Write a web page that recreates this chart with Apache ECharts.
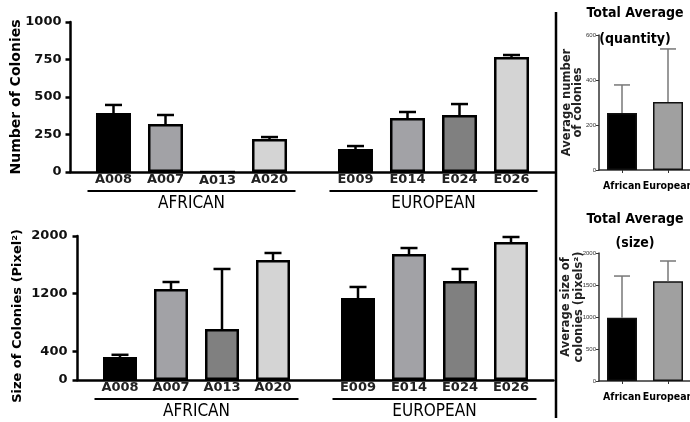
<!DOCTYPE html>
<html><head><meta charset="utf-8">
<script src="https://cdn.jsdelivr.net/npm/echarts@6/dist/echarts.min.js"></script>
<style>html,body{margin:0;padding:0;background:#fff}#c{width:690px;height:422px}</style>
</head><body><div id="c"></div><script>
// ---- data ----
const groups = ['AFRICAN', 'EUROPEAN'];
const strainsAfrican = ['A008', 'A007', 'A013', 'A020'];
const strainsEuropean = ['E009', 'E014', 'E024', 'E026'];
const countAfrican = [393, 320, 0, 220];
const countAfricanSD = [54, 60, 0, 13];
const countEuropean = [153, 360, 380, 767];
const countEuropeanSD = [20, 40, 73, 13];
const sizeAfrican = [320, 1264, 708, 1667];
const sizeAfricanSD = [30, 97, 834, 97];
const sizeEuropean = [1139, 1750, 1375, 1917];
const sizeEuropeanSD = [153, 83, 167, 69];
const totalGroups = ['African', 'European'];
const totalCount = [253, 302];
const totalCountSD = [125, 236];
const totalSize = [990, 1560];
const totalSizeSD = [650, 315];
const countTicks = [0, 250, 500, 750, 1000];
const sizeTicks = [0, 400, 1200, 2000];

// ---- style ----
const barColors = ['#000000', '#a2a2a6', '#808080', '#d4d4d4'];
const totalColors = ['#000000', '#a0a0a0'];
const NARROW = '"Liberation Sans Narrow", "DejaVu Sans Condensed", "Roboto Condensed", "Liberation Sans", sans-serif';
const WIDE = '"DejaVu Sans", sans-serif';

function errorBars(spacing, nSeries, capW, color, lw) {
  return function (params, api) {
    const cat = api.value(0), s = api.value(1), v = api.value(2), e = api.value(3);
    if (!(e > 0)) return null;
    const p0 = api.coord([cat, v]), p1 = api.coord([cat, v + e]);
    const x = p0[0] + (s - (nSeries - 1) / 2) * spacing;
    return { type: 'group', children: [
      { type: 'line', shape: { x1: x, y1: p0[1], x2: x, y2: p1[1] }, style: { stroke: color, lineWidth: lw } },
      { type: 'line', shape: { x1: x - capW / 2, y1: p1[1], x2: x + capW / 2, y2: p1[1] }, style: { stroke: color, lineWidth: lw } }
    ] };
  };
}

function groupedData(af, afSD, eu, euSD) {
  const out = [];
  for (let s = 0; s < af.length; s++) {
    out.push([0, s, af[s], afSD[s]]);
    out.push([1, s, eu[s], euSD[s]]);
  }
  return out;
}

function leftBars(grid, af, eu, barW, gap, labelLH) {
  return af.map((v, k) => ({
    type: 'bar', xAxisIndex: grid, yAxisIndex: grid,
    data: [af[k], eu[k]],
    barWidth: barW, barGap: gap,
    itemStyle: { color: barColors[k], borderColor: '#000', borderWidth: 2.5 },
    label: {
      show: true, position: 'bottom', distance: 1,
      formatter: p => (p.dataIndex === 0 ? strainsAfrican : strainsEuropean)[k],
      fontFamily: WIDE, fontWeight: 'bold', fontSize: 13, lineHeight: labelLH, color: '#222'
    },
    silent: true, z: 2
  }));
}

function groupAxis(grid, lineW, margin) {
  return {
    gridIndex: grid, type: 'category', data: groups,
    axisLine: { lineStyle: { color: '#000', width: 2.5 } },
    axisTick: { show: false },
    axisLabel: {
      margin: margin, interval: 0,
      formatter: v => '{line|}\n{name|' + v + '}',
      rich: {
        line: { width: lineW, height: 2, lineHeight: 2, fontSize: 2, backgroundColor: '#000' },
        name: { fontFamily: NARROW, fontSize: 17, lineHeight: 23, color: '#000' }
      }
    }
  };
}

function smallCatAxis(grid) {
  return { gridIndex: grid, type: 'category', data: totalGroups,
    axisLine: { lineStyle: { color: '#333', width: 1.5 } },
    axisTick: { show: true, alignWithLabel: true, length: 3, lineStyle: { color: '#333' } },
    axisLabel: { margin: 11, interval: 0, hideOverlap: false, fontFamily: NARROW, fontWeight: 'bold', fontSize: 10.5, color: '#000' } };
}

const chart = echarts.init(document.getElementById('c'));
const option = {
  animation: false,
  backgroundColor: '#fff',
  title: [
    { text: 'Total Average\n(quantity)', left: 635, top: 0, padding: 0, textAlign: 'center',
      textStyle: { fontFamily: NARROW, fontWeight: 'bold', fontSize: 14, lineHeight: 26, color: '#000' } },
    { text: 'Total Average\n(size)', left: 635, top: 207, padding: 0, textAlign: 'center',
      textStyle: { fontFamily: NARROW, fontWeight: 'bold', fontSize: 14, lineHeight: 24, color: '#000' } }
  ],
  grid: [
    { left: 70.5, width: 484, top: 22, height: 150, outerBoundsMode: 'none' },
    { left: 77.5, width: 476, top: 236, height: 144, outerBoundsMode: 'none' },
    { left: 599, width: 92, top: 35, height: 135, outerBoundsMode: 'none' },
    { left: 599, width: 92, top: 253, height: 128, outerBoundsMode: 'none' }
  ],
  xAxis: [
    groupAxis(0, 208, 18),
    groupAxis(1, 204, 18),
    smallCatAxis(2),
    smallCatAxis(3)
  ],
  yAxis: [
    { gridIndex: 0, type: 'value', min: countTicks[0], max: countTicks[countTicks.length - 1], interval: 250,
      axisLine: { show: true, lineStyle: { color: '#000', width: 2.5 } },
      axisTick: { show: true, length: 5, lineStyle: { width: 2.5, color: '#000' } },
      splitLine: { show: false },
      axisLabel: { margin: 9, fontFamily: WIDE, fontWeight: 'bold', fontSize: 13, color: '#111', formatter: v => String(v) },
      name: 'Number of Colonies', nameLocation: 'middle', nameGap: 47, nameRotate: 90, nameMoveOverlap: false,
      nameTextStyle: { fontFamily: WIDE, fontWeight: 'bold', fontSize: 14, color: '#000' } },
    { gridIndex: 1, type: 'value', min: 0, max: 2000,
      axisLine: { show: true, lineStyle: { color: '#000', width: 2.5 } },
      axisTick: { show: true, length: 5, lineStyle: { width: 2.5, color: '#000' }, customValues: sizeTicks },
      splitLine: { show: false },
      axisLabel: { margin: 10, fontFamily: WIDE, fontWeight: 'bold', fontSize: 13, color: '#111',
        customValues: sizeTicks, formatter: v => String(v) },
      name: 'Size of Colonies (Pixel²)', nameLocation: 'middle', nameGap: 53, nameRotate: 90, nameMoveOverlap: false,
      nameTextStyle: { fontFamily: WIDE, fontWeight: 'bold', fontSize: 13, color: '#000', padding: [0, 16, 0, 0] } },
    { gridIndex: 2, type: 'value', min: 0, max: 600, interval: 200,
      axisLine: { show: true, lineStyle: { color: '#333', width: 1.5 } },
      axisTick: { show: true, length: 3, lineStyle: { color: '#333' } },
      splitLine: { show: false },
      axisLabel: { margin: 3, fontFamily: '"Liberation Sans", sans-serif', fontSize: 6, color: '#333', formatter: v => String(v) },
      name: 'Average number\nof colonies', nameLocation: 'middle', nameGap: 15, nameRotate: 90, nameMoveOverlap: false,
      nameTextStyle: { fontFamily: WIDE, fontWeight: 'bold', fontSize: 11.5, lineHeight: 11.5, color: '#222' } },
    { gridIndex: 3, type: 'value', min: 0, max: 2000, interval: 500,
      axisLine: { show: true, lineStyle: { color: '#333', width: 1.5 } },
      axisTick: { show: true, length: 3, lineStyle: { color: '#333' } },
      splitLine: { show: false },
      axisLabel: { margin: 3, fontFamily: '"Liberation Sans", sans-serif', fontSize: 6, color: '#333', formatter: v => String(v) },
      name: 'Average size of\ncolonies (pixels²)', nameLocation: 'middle', nameGap: 13, nameRotate: 90, nameMoveOverlap: false,
      nameTextStyle: { fontFamily: WIDE, fontWeight: 'bold', fontSize: 11.5, lineHeight: 13, color: '#222', padding: [0, 0, 0, 20] } }
  ],
  graphic: [
    { type: 'line', shape: { x1: 556, y1: 12, x2: 556, y2: 418 }, style: { stroke: '#000', lineWidth: 2.5 }, silent: true }
  ],
  series: [
    ...leftBars(0, countAfrican, countEuropean, 35, '48.6%', 13),
    { type: 'custom', xAxisIndex: 0, yAxisIndex: 0, encode: { x: 0, y: 2 }, z: 3, silent: true,
      data: groupedData(countAfrican, countAfricanSD, countEuropean, countEuropeanSD),
      renderItem: errorBars(52, 4, 17, '#000', 2.5) },
    ...leftBars(1, sizeAfrican, sizeEuropean, 34, '50%', 14),
    { type: 'custom', xAxisIndex: 1, yAxisIndex: 1, encode: { x: 0, y: 2 }, z: 3, silent: true,
      data: groupedData(sizeAfrican, sizeAfricanSD, sizeEuropean, sizeEuropeanSD),
      renderItem: errorBars(51, 4, 17, '#000', 2.5) },
    { type: 'bar', xAxisIndex: 2, yAxisIndex: 2, barWidth: 30, silent: true,
      data: totalCount.map((v, i) => ({ value: v, itemStyle: { color: totalColors[i] } })),
      itemStyle: { borderColor: '#111', borderWidth: 1.5 } },
    { type: 'custom', xAxisIndex: 2, yAxisIndex: 2, encode: { x: 0, y: 2 }, z: 3, silent: true,
      data: totalCount.map((v, i) => [i, 0, v, totalCountSD[i]]),
      renderItem: errorBars(0, 1, 16, '#777', 1.5) },
    { type: 'bar', xAxisIndex: 3, yAxisIndex: 3, barWidth: 30, silent: true,
      data: totalSize.map((v, i) => ({ value: v, itemStyle: { color: totalColors[i] } })),
      itemStyle: { borderColor: '#111', borderWidth: 1.5 } },
    { type: 'custom', xAxisIndex: 3, yAxisIndex: 3, encode: { x: 0, y: 2 }, z: 3, silent: true,
      data: totalSize.map((v, i) => [i, 0, v, totalSizeSD[i]]),
      renderItem: errorBars(0, 1, 16, '#777', 1.5) }
  ]
};
chart.setOption(option);
</script></body></html>
